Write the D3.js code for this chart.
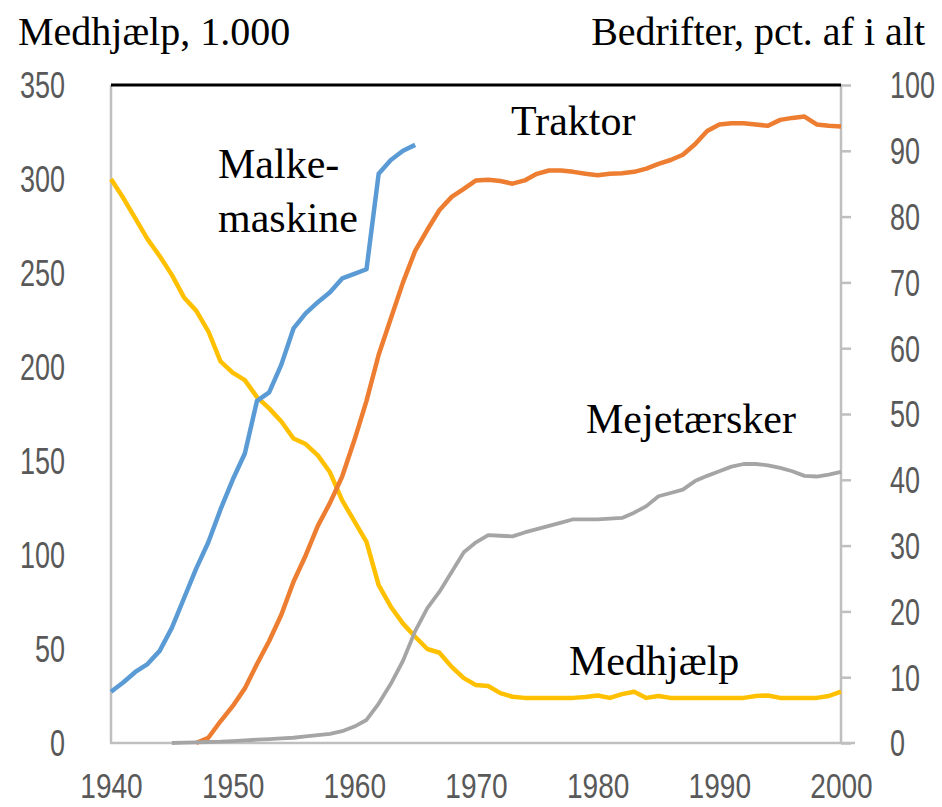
<!DOCTYPE html>
<html>
<head>
<meta charset="utf-8">
<script src="https://cdn.jsdelivr.net/npm/d3@7"></script>
<style>
  html, body { margin: 0; padding: 0; background: #ffffff; }
  svg { display: block; }
</style>
</head>
<body>
<svg id="chart" width="942" height="807"></svg>
<script>
// ---------------- data ----------------
const years = d3.range(1940, 2001);

// Medhjælp, 1.000 (left axis), 1940-2000
const medhjaelp = [300, 290, 279, 268, 259, 249, 237, 230, 219, 203,
  197, 193, 184, 178, 171, 162, 159, 153, 144, 129,
  118, 107, 84, 72.5, 63.5, 56.5, 50, 48, 40.5, 34.5,
  30.8, 30.3, 26.5, 24.6, 24, 24, 24, 24, 24, 24.5,
  25.3, 24, 26, 27.3, 24, 25, 24, 24, 24, 24,
  24, 24, 24, 25, 25.3, 24, 24, 24, 24, 25, 27.3];

// Malkemaskine, pct. af bedrifter (right axis), 1940-1965
const malkeYears = d3.range(1940, 1966);
const malkemaskine = [7.8, 9.2, 10.8, 12, 14, 17.5, 22, 26.5, 30.5, 35.5,
  40, 44, 52, 53.3, 57.5, 63, 65.3, 67, 68.5, 70.6,
  71.3, 72, 86.5, 88.6, 90, 90.9];

// Traktor, pct. af bedrifter (right axis), 1947-2000
const traktorYears = d3.range(1947, 2001);
const traktor = [0, 0.8, 3.3, 5.6, 8.3, 12, 15.5, 19.5, 24.5, 28.5,
  33, 36.5, 40.5, 46, 52, 59, 64.5, 70, 74.8, 78,
  81, 83, 84.2, 85.5, 85.6, 85.4, 85, 85.5, 86.5, 87,
  87, 86.8, 86.5, 86.3, 86.5, 86.6, 86.8, 87.3, 88, 88.6,
  89.4, 91, 93, 94, 94.2, 94.2, 94, 93.8, 94.7, 95,
  95.2, 94, 93.8, 93.7];

// Mejetærsker, pct. af bedrifter (right axis), 1945-2000
const mejeYears = d3.range(1945, 2001);
const mejetaersker = [0, 0.05, 0.1, 0.15, 0.2, 0.3, 0.4, 0.5, 0.6, 0.7,
  0.8, 1.0, 1.2, 1.4, 1.8, 2.5, 3.5, 6, 9, 12.5,
  17, 20.5, 23, 26, 29, 30.5, 31.6, 31.5, 31.4, 32,
  32.5, 33, 33.5, 34, 34, 34, 34.1, 34.2, 35, 36,
  37.5, 38, 38.5, 39.8, 40.6, 41.3, 42, 42.4, 42.4, 42.2,
  41.8, 41.3, 40.6, 40.5, 40.8, 41.2];

const leftTicks = [0, 50, 100, 150, 200, 250, 300, 350];
const rightTicks = [0, 10, 20, 30, 40, 50, 60, 70, 80, 90, 100];
const xTicks = [1940, 1950, 1960, 1970, 1980, 1990, 2000];

const leftTitle = "Medhjælp, 1.000";
const rightTitle = "Bedrifter, pct. af i alt";

// ---------------- layout ----------------
const svg = d3.select("#chart");
const L = 111, R = 841, T = 85, B = 743;

const x = d3.scaleLinear().domain([1940, 2000]).range([L, R]);
const yL = d3.scaleLinear().domain([0, 350]).range([B, T]);
const yR = d3.scaleLinear().domain([0, 100]).range([B, T]);

const tickFont = "'Liberation Sans', Arial, sans-serif";
const serif = "'Liberation Serif', 'Times New Roman', serif";
const tickColor = "#595959";
const axisGray = "#BFBFBF";

function condense(sx) {
  return function (sel) {
    sel.each(function () {
      const t = d3.select(this);
      const ax = +t.attr("x") || 0;
      t.attr("transform", `translate(${ax},0) scale(${sx},1) translate(${-ax},0)`);
    });
  };
}

// axis frame lines
svg.append("line").attr("x1", L).attr("x2", L).attr("y1", T).attr("y2", B)
  .attr("stroke", axisGray).attr("stroke-width", 2.5);
svg.append("line").attr("x1", L - 1).attr("x2", R + 14).attr("y1", B).attr("y2", B)
  .attr("stroke", axisGray).attr("stroke-width", 2.5);

// left axis (labels only)
const gL = svg.append("g").attr("transform", `translate(${L},0)`)
  .call(d3.axisLeft(yL).tickValues(leftTicks).tickSize(0).tickPadding(46));
gL.select(".domain").remove();
gL.selectAll("text").attr("font-family", tickFont).attr("font-size", 36)
  .attr("fill", tickColor).attr("dy", "0.36em").call(condense(0.75));

// right axis with outward ticks
const gR = svg.append("g").attr("transform", `translate(${R},0)`)
  .call(d3.axisRight(yR).tickValues(rightTicks).tickSize(10).tickPadding(39));
gR.select(".domain").attr("stroke", axisGray).attr("stroke-width", 2.5)
  .attr("d", `M0,${B}V${T}`);
gR.selectAll(".tick line").attr("stroke", axisGray).attr("stroke-width", 2.5);
gR.selectAll("text").attr("font-family", tickFont).attr("font-size", 36)
  .attr("fill", tickColor).attr("dy", "0.36em").call(condense(0.75));

// bottom axis (labels only)
const gX = svg.append("g").attr("transform", `translate(0,${B})`)
  .call(d3.axisBottom(x).tickValues(xTicks).tickFormat(d3.format("d")).tickSize(0).tickPadding(33));
gX.select(".domain").remove();
gX.selectAll("text").attr("font-family", tickFont).attr("font-size", 36)
  .attr("fill", tickColor).attr("dy", "0.6em").call(condense(0.78));

// top black border
svg.append("line").attr("x1", L).attr("x2", R).attr("y1", T).attr("y2", T)
  .attr("stroke", "#000").attr("stroke-width", 3);

// ---------------- series ----------------
function drawLine(xs, vs, yScale, color, width) {
  const pts = xs.map((yr, i) => [yr, vs[i]]);
  svg.append("path").datum(pts)
    .attr("fill", "none").attr("stroke", color).attr("stroke-width", width)
    .attr("stroke-linejoin", "round").attr("stroke-linecap", "butt")
    .attr("d", d3.line().x(d => x(d[0])).y(d => yScale(d[1])));
}
drawLine(years, medhjaelp, yL, "#FFC000", 4.5);
drawLine(malkeYears, malkemaskine, yR, "#5B9BD5", 4.5);
drawLine(traktorYears, traktor, yR, "#ED7D31", 4.5);
drawLine(mejeYears, mejetaersker, yR, "#A5A5A5", 3.8);

// ---------------- titles & labels ----------------
svg.append("text").attr("x", 18).attr("y", 45).text(leftTitle)
  .attr("font-family", serif).attr("font-size", 40).attr("fill", "#000");
svg.append("text").attr("x", 925).attr("y", 45).attr("text-anchor", "end").text(rightTitle)
  .attr("font-family", serif).attr("font-size", 40).attr("fill", "#000");

const labels = [
  { t: "Malke-", x: 218, y: 178 },
  { t: "maskine", x: 218, y: 232 },
  { t: "Traktor", x: 511, y: 135 },
  { t: "Mejetærsker", x: 586, y: 433 },
  { t: "Medhjælp", x: 569, y: 675 }
];
svg.selectAll("text.lbl").data(labels).enter().append("text")
  .attr("class", "lbl").attr("x", d => d.x).attr("y", d => d.y).text(d => d.t)
  .attr("font-family", serif).attr("font-size", 42).attr("fill", "#000");
</script>
</body>
</html>
